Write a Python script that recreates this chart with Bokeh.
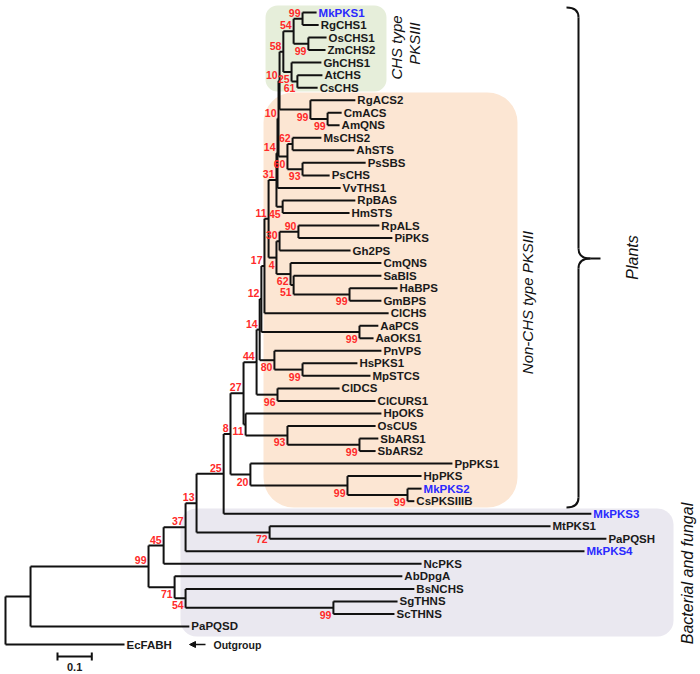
import numpy as np
from bokeh.plotting import figure
from bokeh.models import Range1d, ColumnDataSource, Arrow, NormalHead
from bokeh.core.properties import value
from bokeh.embed import file_html
from bokeh.resources import INLINE

# ---------------- data ----------------
leaf_names = ["MkPKS1", "RgCHS1", "OsCHS1", "ZmCHS2", "GhCHS1", "AtCHS", "CsCHS",
              "RgACS2", "CmACS", "AmQNS", "MsCHS2", "AhSTS", "PsSBS", "PsCHS",
              "VvTHS1", "RpBAS", "HmSTS", "RpALS", "PiPKS", "Gh2PS", "CmQNS",
              "SaBIS", "HaBPS", "GmBPS", "ClCHS", "AaPCS", "AaOKS1", "PnVPS",
              "HsPKS1", "MpSTCS", "ClDCS", "ClCURS1", "HpOKS", "OsCUS", "SbARS1",
              "SbARS2", "PpPKS1", "HpPKS", "MkPKS2", "CsPKSIIIB", "MkPKS3", "MtPKS1",
              "PaPQSH", "MkPKS4", "NcPKS", "AbDpgA", "BsNCHS", "SgTHNS", "ScTHNS",
              "PaPQSD", "EcFABH"]
# root-to-tip distance of each leaf
leaf_dist = [0.907, 0.913, 0.936, 0.933, 0.921, 0.924, 0.910,
             1.020, 0.980, 0.974, 0.921, 1.017, 1.050, 0.945,
             0.977, 1.020, 1.003, 1.090, 1.128, 1.006, 1.096,
             1.096, 1.143, 1.096, 1.117, 1.087, 1.073, 1.096,
             1.026, 1.064, 0.974, 1.079, 1.096, 1.079, 1.087,
             1.079, 1.303, 1.213, 1.213, 1.192, 1.708, 1.589,
             1.752, 1.688, 1.213, 1.157, 1.192, 1.143, 1.134,
             0.536, 0.347]
highlight = ["MkPKS1", "MkPKS2", "MkPKS3", "MkPKS4"]
outgroup = "EcFABH"

# internal nodes (children listed before parents)
node_names = ["nMR", "nOZ", "n54", "nAC", "n25", "L1", "nCA", "nRg", "L2", "nMA",
              "nPP", "n60", "L3", "L4", "nRH", "L5", "nRP", "n30", "nHG", "n51",
              "n62", "n4", "L6", "L7", "nAA", "L8", "nHM", "n80", "L9", "n96",
              "L10", "nSb", "n93", "n11", "n27", "nMC", "nHp", "n20", "n8", "n25b",
              "n72", "n13", "n37", "n45", "nST", "n54b", "n71", "n99", "nA", "root"]
node_children = [("MkPKS1", "RgCHS1"), ("OsCHS1", "ZmCHS2"), ("nMR", "nOZ"),
                 ("AtCHS", "CsCHS"), ("GhCHS1", "nAC"), ("n54", "n25"),
                 ("CmACS", "AmQNS"), ("RgACS2", "nCA"), ("L1", "nRg"),
                 ("MsCHS2", "AhSTS"), ("PsSBS", "PsCHS"), ("nMA", "nPP"),
                 ("L2", "n60"), ("L3", "VvTHS1"), ("RpBAS", "HmSTS"), ("L4", "nRH"),
                 ("RpALS", "PiPKS"), ("nRP", "Gh2PS"), ("HaBPS", "GmBPS"),
                 ("SaBIS", "nHG"), ("CmQNS", "n51"), ("n30", "n62"), ("L5", "n4"),
                 ("L6", "ClCHS"), ("AaPCS", "AaOKS1"), ("L7", "nAA"),
                 ("HsPKS1", "MpSTCS"), ("PnVPS", "nHM"), ("L8", "n80"),
                 ("ClDCS", "ClCURS1"), ("L9", "n96"), ("SbARS1", "SbARS2"),
                 ("OsCUS", "nSb"), ("HpOKS", "n93"), ("L10", "n11"),
                 ("MkPKS2", "CsPKSIIIB"), ("HpPKS", "nMC"), ("PpPKS1", "nHp"),
                 ("n27", "n20"), ("n8", "MkPKS3"), ("MtPKS1", "PaPQSH"),
                 ("n25b", "n72"), ("n13", "MkPKS4"), ("n37", "NcPKS"),
                 ("SgTHNS", "ScTHNS"), ("BsNCHS", "nST"), ("AbDpgA", "n54b"),
                 ("n45", "n71"), ("n99", "PaPQSD"), ("nA", "EcFABH")]
node_dist = [0.866, 0.883, 0.840, 0.851, 0.834, 0.810, 0.939, 0.889, 0.799, 0.837,
             0.866, 0.822, 0.796, 0.793, 0.808, 0.790, 0.854, 0.799, 1.003, 0.840,
             0.831, 0.790, 0.767, 0.755, 1.032, 0.746, 0.866, 0.784, 0.741, 0.793,
             0.732, 1.032, 0.822, 0.700, 0.694, 1.172, 0.997, 0.714, 0.656, 0.636,
             0.770, 0.557, 0.525, 0.461, 0.956, 0.525, 0.493, 0.417, 0.073, 0.000]
node_support = [99, 99, 54, 61, 25, 58, 99, 99, 10, 62,
                93, 60, 10, 14, 45, 31, 90, 30, 99, 51,
                62, 4, 11, 17, 99, 12, 99, 80, 14, 96,
                44, 99, 93, 11, 27, 99, 99, 20, 8, 25,
                72, 13, 37, 45, 99, 54, 71, 99, None, None]
node_side = ["a", "b", "a", "b", "b", "a", "b", "b", "a", "a",
             "b", "b", "a", "a", "b", "a", "a", "a", "b", "b",
             "b", "b", "a", "a", "b", "a", "b", "b", "a", "b",
             "a", "b", "b", "b", "a", "b", "b", "b", "a", "a",
             "b", "a", "a", "a", "b", "b", "b", "a", "", ""]
scale_len = 0.1

# ---------------- layout helpers (pixel -> data) ----------------
PX_PER_UNIT = 343.0
ROW_PX = 12.53
W, H = 700, 674
def X(px):
    return (px - 5) / PX_PER_UNIT
def Y(py):
    return (py - 12) / ROW_PX

# ---------------- compute tree geometry ----------------
pos = {}
for i, n in enumerate(leaf_names):
    r = i + (0.44 if n == outgroup else 0.0)
    pos[n] = (leaf_dist[i], r)

hx0, hy0, hx1, hy1 = [], [], [], []
vx, vy0, vy1 = [], [], []
bs_x, bs_y, bs_t, bs_off = [], [], [], []
for name, ch, d, s, side in zip(node_names, node_children, node_dist, node_support, node_side):
    ys = [pos[c][1] for c in ch]
    y = (min(ys) + max(ys)) / 2.0
    pos[name] = (d, y)
    vx.append(d); vy0.append(min(ys)); vy1.append(max(ys))
    for c in ch:
        cx, cy = pos[c]
        hx0.append(d); hy0.append(cy); hx1.append(cx); hy1.append(cy)
    if s is not None:
        bs_x.append(d); bs_y.append(y); bs_t.append(str(s))
        bs_off.append(-6 if side == "a" else 7)

# ---------------- figure ----------------
p = figure(width=W, height=H, output_backend="svg", toolbar_location=None,
           x_range=Range1d(X(0), X(W)), y_range=Range1d(Y(H), Y(0)),
           x_axis_location=None, y_axis_location=None, min_border=0,
           outline_line_color=None, background_fill_color="white")
p.grid.visible = False
p.min_border_left = p.min_border_right = p.min_border_top = p.min_border_bottom = 0

# background group boxes
p.quad(left=[X(265)], right=[X(386)], top=[Y(5)], bottom=[Y(91)],
       fill_color="#E6EEDA", line_color=None, border_radius=12)
p.quad(left=[X(263)], right=[X(517)], top=[Y(92)], bottom=[Y(507)],
       fill_color="#FCE6D3", line_color=None, border_radius=30)
p.quad(left=[X(180)], right=[X(673)], top=[Y(508)], bottom=[Y(636)],
       fill_color="#EAE8F0", line_color=None, border_radius=16)

# tree branches
p.segment(x0=hx0, y0=hy0, x1=hx1, y1=hy1, line_color="#111111", line_width=2)
p.segment(x0=vx, y0=vy0, x1=vx, y1=vy1, line_color="#111111", line_width=2)

# leaf labels
src = ColumnDataSource(dict(
    x=[pos[n][0] for n in leaf_names],
    y=[pos[n][1] for n in leaf_names],
    t=leaf_names,
    c=["#2A2AFF" if n in highlight else "#1A1A1A" for n in leaf_names]))
p.text(x="x", y="y", text="t", source=src, text_color="c", x_offset=2,
       text_font=value("Liberation Sans"), text_font_style="bold",
       text_font_size="11.5px", text_baseline="middle", text_align="left")

# bootstrap values
bsrc = ColumnDataSource(dict(x=bs_x, y=bs_y, t=bs_t, yo=bs_off))
p.text(x="x", y="y", text="t", source=bsrc, x_offset=-2, y_offset="yo",
       text_color="#FF2A2A", text_font=value("Liberation Sans"),
       text_font_style="bold", text_font_size="10.5px",
       text_baseline="middle", text_align="right")

# outgroup arrow and text
ey = pos[outgroup][1]
p.add_layout(Arrow(end=NormalHead(size=6, fill_color="#111111", line_color="#111111"),
                   x_start=X(205), y_start=ey, x_end=X(189), y_end=ey,
                   line_color="#111111", line_width=1.5))
p.text(x=[X(213)], y=[ey], text=["Outgroup"], text_font=value("Liberation Sans"),
       text_font_style="bold", text_font_size="10.5px", text_color="#1A1A1A",
       text_baseline="middle", text_align="left")

# scale bar
sx0 = X(57)
sy = Y(656)
p.segment(x0=[sx0], y0=[sy], x1=[sx0 + scale_len], y1=[sy], line_color="#111111", line_width=2)
p.segment(x0=[sx0, sx0 + scale_len], y0=[Y(652), Y(652)], x1=[sx0, sx0 + scale_len],
          y1=[Y(660), Y(660)], line_color="#111111", line_width=2)
p.text(x=[sx0 + scale_len / 2], y=[Y(666)], text=["0.1"], text_font=value("Liberation Sans"),
       text_font_style="bold", text_font_size="11px", text_color="#1A1A1A",
       text_baseline="middle", text_align="center")

# brace for plants
bc = "#111111"
p.bezier(x0=[X(566), X(578), X(590), X(578)], y0=[Y(7), Y(248), Y(258), Y(497)],
         x1=[X(578), X(590), X(578), X(566)], y1=[Y(17), Y(258), Y(268), Y(507)],
         cx0=[X(574), X(578), X(583), X(578)], cy0=[Y(7), Y(255), Y(258), Y(504)],
         cx1=[X(578), X(583), X(578), X(574)], cy1=[Y(10), Y(258), Y(261), Y(507)],
         line_color=bc, line_width=2)
p.segment(x0=[X(578), X(578), X(590)], y0=[Y(17), Y(268), Y(258)],
          x1=[X(578), X(578), X(600)], y1=[Y(248), Y(497), Y(258)],
          line_color=bc, line_width=2)

# group titles (rotated, italic)
def vtext(px, py, txt, size):
    p.text(x=[X(px)], y=[Y(py)], text=[txt], angle=np.pi / 2,
           text_font=value("Liberation Sans"), text_font_style="italic",
           text_font_size=size, text_color="#111111",
           text_baseline="middle", text_align="center")

vtext(396, 47, "CHS type", "15px")
vtext(414, 43, "PKSIII", "15px")
vtext(527, 302, "Non-CHS type PKSIII", "15px")
vtext(632, 257, "Plants", "16px")
vtext(687, 573, "Bacterial and fungal", "16px")

open("out.html", "w").write(file_html(p, INLINE))
